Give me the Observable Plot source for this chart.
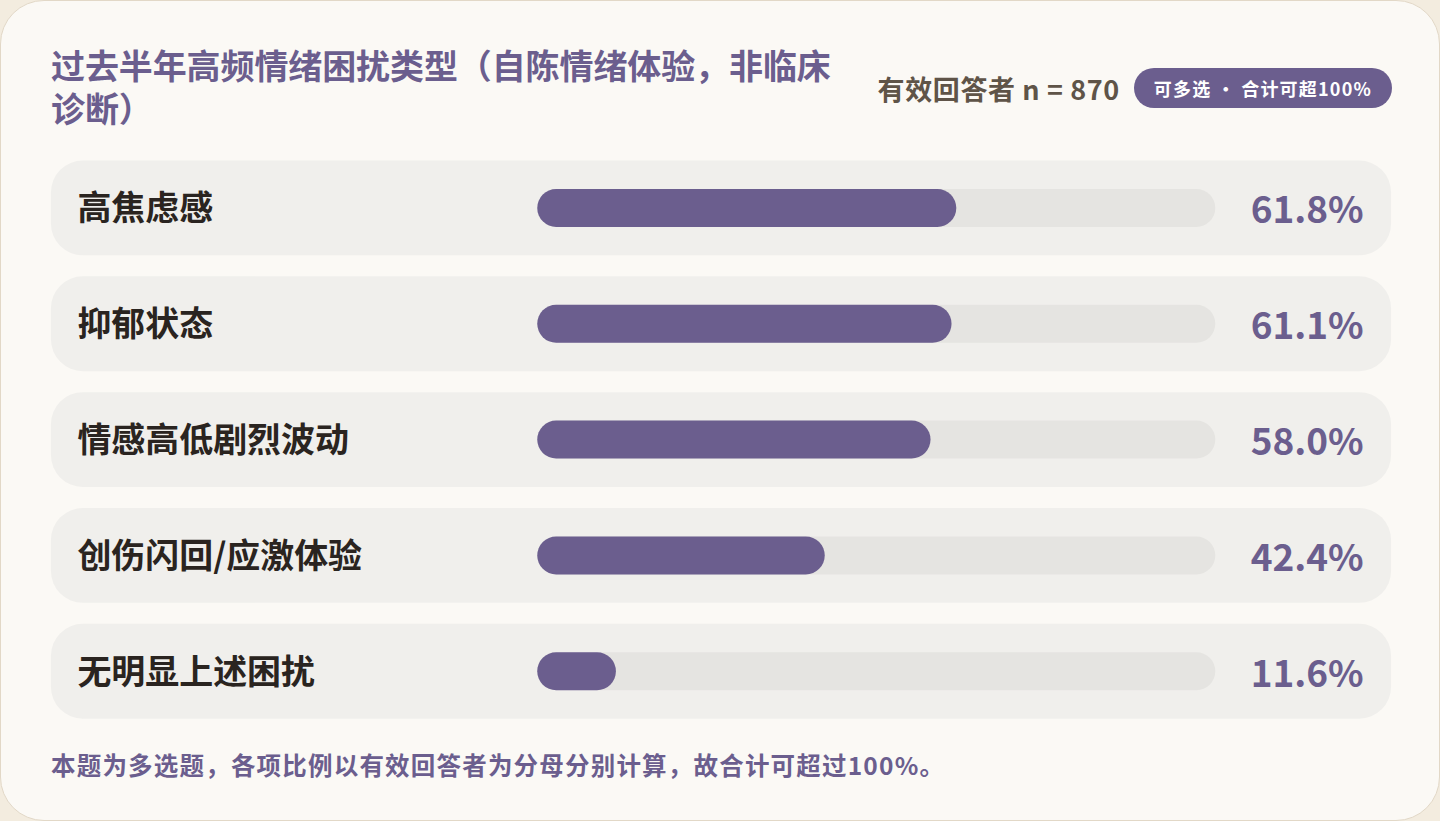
<!DOCTYPE html>
<html lang="zh-CN">
<head>
<meta charset="utf-8">
<script src="https://cdn.jsdelivr.net/npm/d3@7"></script>
<script src="https://cdn.jsdelivr.net/npm/@observablehq/plot@0.6"></script>
<style>
  html, body { margin: 0; padding: 0; }
  body { width: 1440px; height: 821px; background: #f3ecdf; overflow: hidden; font-family: "Noto Sans CJK SC", "Noto Sans", sans-serif; }
  #card { position: absolute; left: 0; top: 0; width: 1440px; height: 821px; box-sizing: border-box;
          background: #fbf9f5; border: 1px solid #e2d8c7; border-radius: 44px; }
  #title { position: absolute; left: 50px; top: 43px; width: 800px; margin: 0; font-size: 34px; line-height: 42.5px;
           font-weight: 700; color: #6b5e8e; letter-spacing: -0.1px; }
  #meta { position: absolute; right: 47px; top: 67px; height: 40px; display: flex; align-items: center; gap: 14px; }
  #n { font-size: 27px; font-weight: 700; color: #5f5448; letter-spacing: 0.6px; }
  #badge { height: 40px; box-sizing: border-box; padding: 0 20px; border-radius: 20px; background: #6b5e8e; color: #fff;
           font-size: 18px; font-weight: 700; letter-spacing: 1.2px; display: flex; align-items: center; }
  #chart { position: absolute; left: 0; top: 149px; }
  #foot { position: absolute; left: 50px; top: 746px; margin: 0; font-size: 24.5px; line-height: 36px; font-weight: 700;
          color: #6b5e8e; letter-spacing: 1.2px; white-space: nowrap; }
</style>
</head>
<body>
<div id="card">
  <h2 id="title"></h2>
  <div id="meta"><span id="n"></span><span id="badge"></span></div>
  <div id="chart"></div>
  <p id="foot"></p>
</div>
<script>
const titleText = "过去半年高频情绪困扰类型（自陈情绪体验，非临床诊断）";
const sampleText = "有效回答者 n = 870";
const badgeText = "可多选 · 合计可超100%";
const footText = "本题为多选题，各项比例以有效回答者为分母分别计算，故合计可超过100%。";

const categories = ["高焦虑感", "抑郁状态", "情感高低剧烈波动", "创伤闪回/应激体验", "无明显上述困扰"];
const values = [61.8, 61.1, 58.0, 42.4, 11.6];
const scaleMax = 100;

document.getElementById("title").textContent = titleText;
document.getElementById("n").textContent = sampleText;
document.getElementById("badge").textContent = badgeText;
document.getElementById("foot").textContent = footText;

const rows = categories.map((c, i) => ({cat: c, value: values[i], lo: 0, hi: scaleMax}));
const purple = "#6b5e8e";

const chart = Plot.plot({
  width: 1440,
  height: 580,
  marginLeft: 50,
  marginRight: 48,
  marginTop: 0,
  marginBottom: 0,
  x: {domain: [0, scaleMax], range: [537, 1216], axis: null},
  y: {domain: categories, padding: 0, axis: null},
  style: {background: "transparent", fontFamily: "'Noto Sans CJK SC', sans-serif", overflow: "visible"},
  marks: [
    Plot.cell(rows, {y: "cat", fill: "#f0efec", insetTop: 10.5, insetBottom: 10.5, rx: 32}),
    Plot.barX(rows, {y: "cat", x1: "lo", x2: "hi", fill: "#e5e4e1", insetTop: 39, insetBottom: 39, rx: 19}),
    Plot.barX(rows, {y: "cat", x1: "lo", x2: "value", fill: purple, insetTop: 39, insetBottom: 39, rx: 19}),
    Plot.text(rows, {y: "cat", text: "cat", frameAnchor: "left", dx: 26, dy: 1, textAnchor: "start",
      fontSize: 34, fontWeight: 700, fill: "#2a2420"}),
    Plot.text(rows, {y: "cat", text: d => d.value.toFixed(1) + "%", frameAnchor: "right", dx: -28, dy: 3,
      textAnchor: "end", fontSize: 37, fontWeight: 700, fill: purple})
  ]
});
document.getElementById("chart").appendChild(chart);
</script>
</body>
</html>
